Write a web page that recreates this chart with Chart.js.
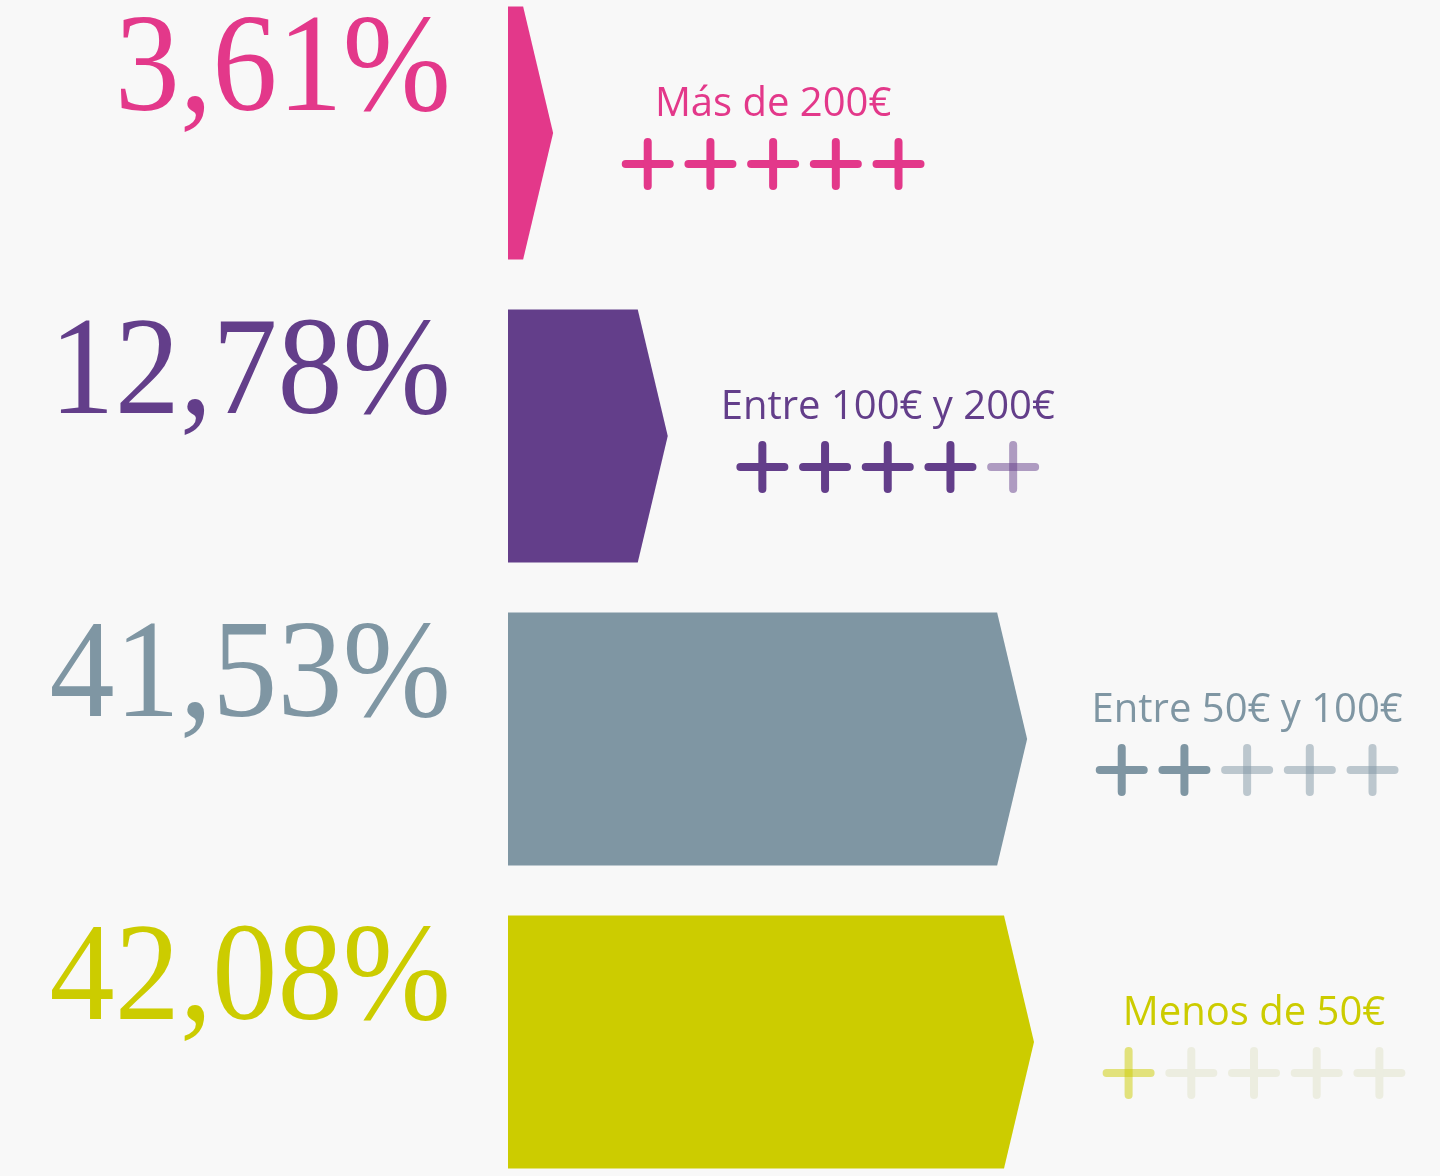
<!DOCTYPE html>
<html>
<head>
<meta charset="utf-8">
<script src="https://cdn.jsdelivr.net/npm/chart.js@4"></script>
<style>
html,body{margin:0;padding:0;background:#f8f8f8;}
#wrap{width:1440px;height:1176px;position:relative;}
</style>
</head>
<body>
<div id="wrap"><canvas id="gasto" width="1440" height="1176"></canvas></div>
<script>
var categorias = ["Más de 200€", "Entre 100€ y 200€", "Entre 50€ y 100€", "Menos de 50€"];
var porcentajes = [3.61, 12.78, 41.53, 42.08];
var cruces = [5, 4, 2, 1];
var maxCruces = 5;

var colores = ["#e3388a", "#633e8a", "#7f96a3", "#cccc00"];
// color de la cruz llena / vacia por fila
var cruzLlena = ["#e3388a", "#633e8a", "#7f96a3", "rgba(204,204,0,0.5)"];
var cruzVacia = ["rgba(227,56,138,0.5)", "rgba(99,62,138,0.5)", "rgba(127,150,163,0.5)", "#ecede0"];

var flechas = {
	id: "flechas",
	afterDatasetsDraw: function(chart){
		var ctx = chart.ctx;
		var meta = chart.getDatasetMeta(0);
		meta.data.forEach(function(bar, i){
			var h = bar.height, top = bar.y - h/2, bot = bar.y + h/2;
			var punta = 30;
			ctx.save();
			ctx.fillStyle = colores[i];
			ctx.beginPath();
			ctx.moveTo(bar.base, top);
			ctx.lineTo(Math.max(bar.base, bar.x - punta), top);
			ctx.lineTo(bar.x, bar.y);
			ctx.lineTo(Math.max(bar.base, bar.x - punta), bot);
			ctx.lineTo(bar.base, bot);
			ctx.closePath();
			ctx.fill();

			// porcentaje a la izquierda (algo estrechado)
			ctx.save();
			ctx.translate(bar.base - 57, bar.y - 23);
			ctx.scale(0.93, 1);
			ctx.font = "140px 'Liberation Serif'";
			ctx.textAlign = "right";
			ctx.textBaseline = "alphabetic";
			ctx.fillText(porcentajes[i].toFixed(2).replace(".", ",") + "%", 0, 0);
			ctx.restore();

			// etiqueta y cruces a la derecha
			var paso = 62.7, brazo = 26;
			var ancho = (maxCruces - 1) * paso + brazo*2;
			var cx = Math.min(bar.x + 220, 1411 - ancho/2);
			ctx.font = "40px 'Open Sans'";
			ctx.textAlign = "center";
			ctx.fillText(categorias[i], cx, bar.y - 17);

			ctx.lineWidth = 8;
			ctx.lineCap = "round";
			var cy = bar.y + 31;
			for (var k = 0; k < maxCruces; k++){
				var px = cx - ancho/2 + brazo + k*paso;
				ctx.strokeStyle = k < cruces[i] ? cruzLlena[i] : cruzVacia[i];
				ctx.beginPath(); ctx.moveTo(px - brazo + 4, cy); ctx.lineTo(px + brazo - 4, cy); ctx.stroke();
				ctx.beginPath(); ctx.moveTo(px, cy - brazo + 4); ctx.lineTo(px, cy + brazo - 4); ctx.stroke();
			}
			ctx.restore();
		});
	}
};

new Chart(document.getElementById("gasto"), {
	type: "bar",
	data: {
		labels: categorias,
		datasets: [{
			data: porcentajes,
			backgroundColor: "rgba(0,0,0,0)",
			barThickness: 253,
			clip: false
		}]
	},
	options: {
		indexAxis: "y",
		responsive: false,
		animation: false,
		layout: { padding: { left: 508, right: 307, top: 133, bottom: 134 } },
		scales: {
			x: { display: false, min: 0, max: 50 },
			y: { display: false, offset: false }
		},
		plugins: { legend: { display: false }, tooltip: { enabled: false } }
	},
	plugins: [flechas]
});
</script>
</body>
</html>
